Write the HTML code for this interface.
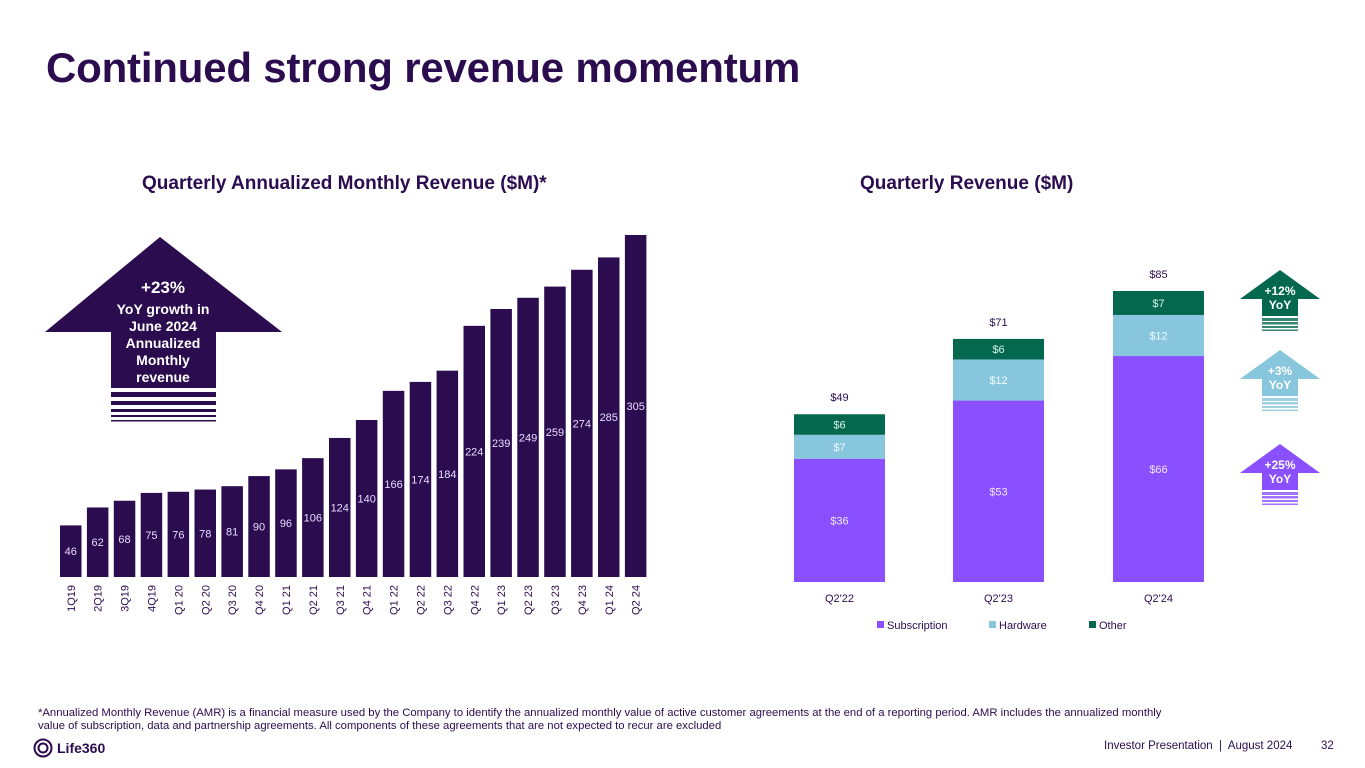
<!DOCTYPE html>
<html><head><meta charset="utf-8">
<style>
html,body{margin:0;padding:0;background:#fff;}
body{width:1365px;height:768px;position:relative;overflow:hidden;font-family:"Liberation Sans",sans-serif;color:#2b0c4f;}
.abs{position:absolute;}
h1{position:absolute;left:46px;top:44px;margin:0;font-size:42px;font-weight:bold;color:#2b0c4f;letter-spacing:-0.2px;}
.ct{position:absolute;top:173px;font-size:19px;font-weight:bold;color:#2b0c4f;}
.foot{position:absolute;left:38px;top:707px;font-size:11.3px;line-height:13px;color:#2b0c4f;width:1150px;}
</style></head><body>
<h1>Continued strong revenue momentum</h1>
<div class="ct" style="left:142px">Quarterly Annualized Monthly Revenue ($M)*</div>
<div class="ct" style="left:860px">Quarterly Revenue ($M)</div>

<svg class="abs" style="left:0;top:0" width="1365" height="768">
  <g id="amr"></g>
  <g id="rev"></g>
  <g>
    <polygon points="160,237 282,332 216,332 216,388 111,388 111,332 45,332" fill="#2b0c4f"/>
    <rect x="111" y="392" width="105" height="5" fill="#2b0c4f"/>
    <rect x="111" y="401" width="105" height="4" fill="#2b0c4f"/>
    <rect x="111" y="409" width="105" height="3" fill="#2b0c4f"/>
    <rect x="111" y="415" width="105" height="2" fill="#2b0c4f"/>
    <rect x="111" y="420" width="105" height="1.5" fill="#2b0c4f"/>
    <text x="163" y="293" fill="#fff" font-size="17" font-weight="bold" text-anchor="middle">+23%</text>
    <g fill="#fff" font-size="14" font-weight="bold" text-anchor="middle">
      <text x="163" y="314">YoY growth in</text>
      <text x="163" y="331">June 2024</text>
      <text x="163" y="348">Annualized</text>
      <text x="163" y="365">Monthly</text>
      <text x="163" y="382">revenue</text>
    </g>
  </g>
  <g id="arrows"></g>
</svg>

<div class="foot">*Annualized Monthly Revenue (AMR) is a financial measure used by the Company to identify the annualized monthly value of active customer agreements at the end of a reporting period. AMR includes the annualized monthly value of subscription, data and partnership agreements. All components of these agreements that are not expected to recur are excluded</div>
<div class="abs" style="left:33px;top:738px;display:flex;align-items:center;gap:4px">
  <svg width="20" height="20"><circle cx="10" cy="10" r="8.5" fill="none" stroke="#2b0c4f" stroke-width="2"/><circle cx="10" cy="10" r="4.5" fill="none" stroke="#2b0c4f" stroke-width="2"/></svg>
  <span style="font-weight:bold;font-size:14px;color:#2b0c4f">Life360</span>
</div>
<div class="abs" style="left:1104px;top:740px;font-size:11.5px;color:#2b0c4f">Investor Presentation &nbsp;|&nbsp; August 2024</div>
<div class="abs" style="left:1321px;top:740px;font-size:11.5px;color:#2b0c4f">32</div>

<script>
const amrCats = ["1Q19","2Q19","3Q19","4Q19","Q1 20","Q2 20","Q3 20","Q4 20","Q1 21","Q2 21","Q3 21","Q4 21","Q1 22","Q2 22","Q3 22","Q4 22","Q1 23","Q2 23","Q3 23","Q4 23","Q1 24","Q2 24"];
const amrVals = [46,62,68,75,76,78,81,90,96,106,124,140,166,174,184,224,239,249,259,274,285,305];

const revCats = ["Q2'22","Q2'23","Q2'24"];
const revSub = [36,53,66];
const revHw = [7,12,12];
const revOther = [6,6,7];
const revTotals = [49,71,85];

const NS = "http://www.w3.org/2000/svg";
function mk(tag, attrs, parent){const e=document.createElementNS(NS,tag);for(const k in attrs)e.setAttribute(k,attrs[k]);parent.appendChild(e);return e;}

const amr = document.getElementById('amr');
const aBase = 577, aScale = 342/305, aX0 = 60, aPitch = 26.9, aW = 21.5;
function ax(i){return aX0 + i*aPitch;}
function ay(v){return aBase - v*aScale;}
amrVals.forEach((v,i)=>{
  const r = mk('rect',{x:ax(i),y:ay(v),width:aW,height:aBase-ay(v),fill:'#2b0c4f'},amr);
  
  
  const t = mk('text',{x:ax(i)+aW/2,y:(ay(v)+aBase)/2+4,fill:'#e6dcff','font-size':11,'text-anchor':'middle'},amr);
  t.textContent = v;
  
  
  const c = mk('text',{transform:`translate(${ax(i)+aW/2+4},585) rotate(-90)`,fill:'#2b0c4f','font-size':11,'text-anchor':'end'},amr);
  c.textContent = amrCats[i];
  
  
});

const rev = document.getElementById('rev');
const rBase = 582, rScale = 291/85, rX = [794,953,1113], rW = 91;
function ry(v){return rBase - v*rScale;}
const segs = [[revSub,'#8a4fff','subscription','#f0e8ff'],[revHw,'#87c6dc','hardware','#f3fbff'],[revOther,'#04684f','other','#d8f5ea']];
revCats.forEach((cat,i)=>{
  let acc = 0;
  segs.forEach(([arr,col,nm,tc])=>{
    const v = arr[i];
    const r = mk('rect',{x:rX[i],y:ry(acc+v),width:rW,height:v*rScale,fill:col},rev);
    
    
    const t = mk('text',{x:rX[i]+rW/2,y:ry(acc+v/2)+4,fill:tc,'font-size':11,'text-anchor':'middle'},rev);
    t.textContent = '$'+v;
    
    
    acc += v;
  });
  const tt = mk('text',{x:rX[i]+rW/2,y:ry(revTotals[i])-13,fill:'#2b0c4f','font-size':11,'text-anchor':'middle'},rev);
  tt.textContent = '$'+revTotals[i];
  
  
  const cl = mk('text',{x:rX[i]+rW/2,y:602,fill:'#2b0c4f','font-size':11,'text-anchor':'middle'},rev);
  cl.textContent = cat;
  
  
});
const leg = [['Subscription','#8a4fff',877],['Hardware','#87c6dc',989],['Other','#04684f',1089]];
leg.forEach(([n,c,x])=>{
  const g = mk('g',{},rev);
  
  
  mk('rect',{x:x,y:621,width:7,height:7,fill:c},g);
  const t = mk('text',{x:x+10,y:629,fill:'#2b0c4f','font-size':11},g);
  t.textContent = n;
});

const arrowsG = document.getElementById('arrows');
const arr = [['+12%','#04684f',270,'yoy-arrow-other'],['+3%','#87c6dc',350,'yoy-arrow-hardware'],['+25%','#8a4fff',444,'yoy-arrow-subscription']];
arr.forEach(([lab,c,ty,nm])=>{
  const g = mk('g',{},arrowsG);
  
  
  const cx = 1280;
  mk('polygon',{points:`${cx},${ty} ${cx+40},${ty+29} ${cx+18},${ty+29} ${cx+18},${ty+46} ${cx-18},${ty+46} ${cx-18},${ty+29} ${cx-40},${ty+29}`,fill:c},g);
  [[48,3],[52,2.5],[56,2],[59.5,1.5]].forEach(([o,h])=>mk('rect',{x:cx-18,y:ty+o,width:36,height:h,fill:c,opacity:0.8},g));
  const t1 = mk('text',{x:cx,y:ty+25,fill:'#fff','font-size':12,'font-weight':'bold','text-anchor':'middle'},g); t1.textContent = lab;
  const t2 = mk('text',{x:cx,y:ty+39,fill:'#fff','font-size':12,'font-weight':'bold','text-anchor':'middle'},g); t2.textContent = 'YoY';
});
</script>
</body></html>
